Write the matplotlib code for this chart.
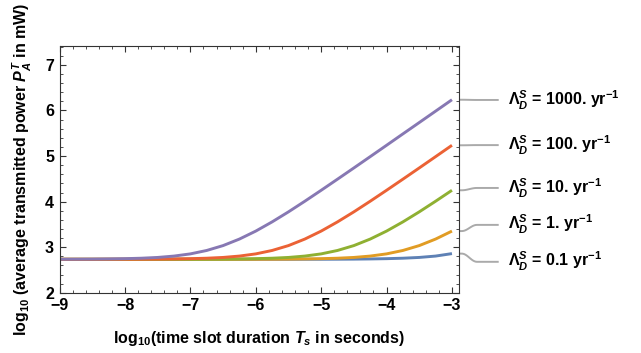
import numpy as np
import matplotlib
matplotlib.use("Agg")
import matplotlib.pyplot as plt
from matplotlib.ticker import MultipleLocator

plt.rcParams['font.family'] = ['Liberation Sans', 'DejaVu Sans']
plt.rcParams['font.weight'] = 'bold'
plt.rcParams['mathtext.fontset'] = 'custom'
plt.rcParams['mathtext.rm'] = 'Liberation Sans:bold'
plt.rcParams['mathtext.it'] = 'Liberation Sans:bold:italic'
plt.rcParams['mathtext.bf'] = 'Liberation Sans:bold'

# log10(Ts) sample points
log_ts = [-9.0, -8.75, -8.5, -8.25, -8.0, -7.75, -7.5, -7.25, -7.0, -6.75, -6.5, -6.25,
          -6.0, -5.75, -5.5, -5.25, -5.0, -4.75, -4.5, -4.25, -4.0, -3.75, -3.5, -3.25, -3.0]

# log10(power), one list per rate
p_01 = [2.735, 2.735, 2.735, 2.735, 2.735, 2.735, 2.735, 2.735, 2.735, 2.735, 2.735, 2.735,
        2.735, 2.735, 2.735, 2.736, 2.736, 2.737, 2.739, 2.743, 2.749, 2.759, 2.776, 2.806, 2.860]
p_1 = [2.735, 2.735, 2.735, 2.735, 2.735, 2.735, 2.735, 2.735, 2.735, 2.735, 2.735, 2.736,
       2.736, 2.737, 2.739, 2.743, 2.749, 2.759, 2.776, 2.806, 2.854, 2.929, 3.036, 3.179, 3.354]
p_10 = [2.735, 2.735, 2.735, 2.735, 2.735, 2.735, 2.735, 2.736, 2.736, 2.737, 2.739, 2.743,
        2.749, 2.759, 2.776, 2.806, 2.854, 2.929, 3.036, 3.179, 3.354, 3.556, 3.776, 4.009, 4.249]
p_100 = [2.735, 2.735, 2.735, 2.736, 2.736, 2.737, 2.739, 2.743, 2.749, 2.759, 2.776, 2.806,
         2.854, 2.929, 3.036, 3.179, 3.354, 3.556, 3.776, 4.009, 4.249, 4.493, 4.739, 4.987, 5.236]
p_1000 = [2.736, 2.737, 2.739, 2.743, 2.749, 2.759, 2.776, 2.806, 2.854, 2.929, 3.036, 3.179,
          3.354, 3.556, 3.776, 4.009, 4.249, 4.493, 4.739, 4.987, 5.236, 5.486, 5.735, 5.985, 6.235]

rates = ["0.1", "1.", "10.", "100.", "1000."]
series = [p_01, p_1, p_10, p_100, p_1000]
colors = ["#5E81B5", "#E19C24", "#8FB032", "#EB6235", "#8778B3"]
label_y = [2.68, 3.49, 4.30, 5.24, 6.23]   # where the callout texts sit

fig = plt.figure(figsize=(6.41, 3.53), dpi=100)
ax = fig.add_axes([0.093, 0.1705, 0.623, 0.70])

for y, c in zip(series, colors):
    ax.plot(log_ts, y, color=c, lw=2.1, solid_capstyle='butt', solid_joinstyle='round')

ax.set_xlim(-9, -2.893)
ax.set_ylim(2, 7.42)

# callout leaders
x0, x1 = -2.878, -2.30
t = np.linspace(0, 1, 30)
for y, ly, r in zip(series, label_y, rates):
    s = (1 - np.cos(np.pi * np.clip((t - 0.05) / 0.4, 0, 1))) / 2
    ax.plot(x0 + (x1 - x0) * t, y[-1] + (ly - y[-1]) * s, color="#AAAAAA", lw=1.4,
            clip_on=False)
    ax.text(-2.14, ly, r"$\Lambda_D^S$ = " + r + r" yr$^{-1}$", fontsize=11.5,
            fontweight='bold', va='center', ha='left', clip_on=False)

ax.xaxis.set_major_locator(MultipleLocator(1))
ax.xaxis.set_minor_locator(MultipleLocator(0.2))
ax.yaxis.set_major_locator(MultipleLocator(1))
ax.yaxis.set_minor_locator(MultipleLocator(0.2))
ax.tick_params(which='both', direction='in', top=True, right=True, color='#333333')
ax.tick_params(which='major', length=4, width=0.8, labelsize=11.5, pad=4)
ax.tick_params(which='minor', length=2.2, width=0.6)
for lab in ax.get_xticklabels() + ax.get_yticklabels():
    lab.set_fontweight('bold')
for sp in ax.spines.values():
    sp.set_color('#333333')
    sp.set_linewidth(0.8)

ax.set_xlabel(r"log$_{10}$(time slot duration $T_s$ in seconds)", fontsize=11.5,
              fontweight='bold', labelpad=11)
ax.set_ylabel(r"log$_{10}$ (average transmitted power $P_A^T$ in mW)", fontsize=11.5,
              fontweight='bold', labelpad=8)

fig.savefig("out.png", dpi=100)
